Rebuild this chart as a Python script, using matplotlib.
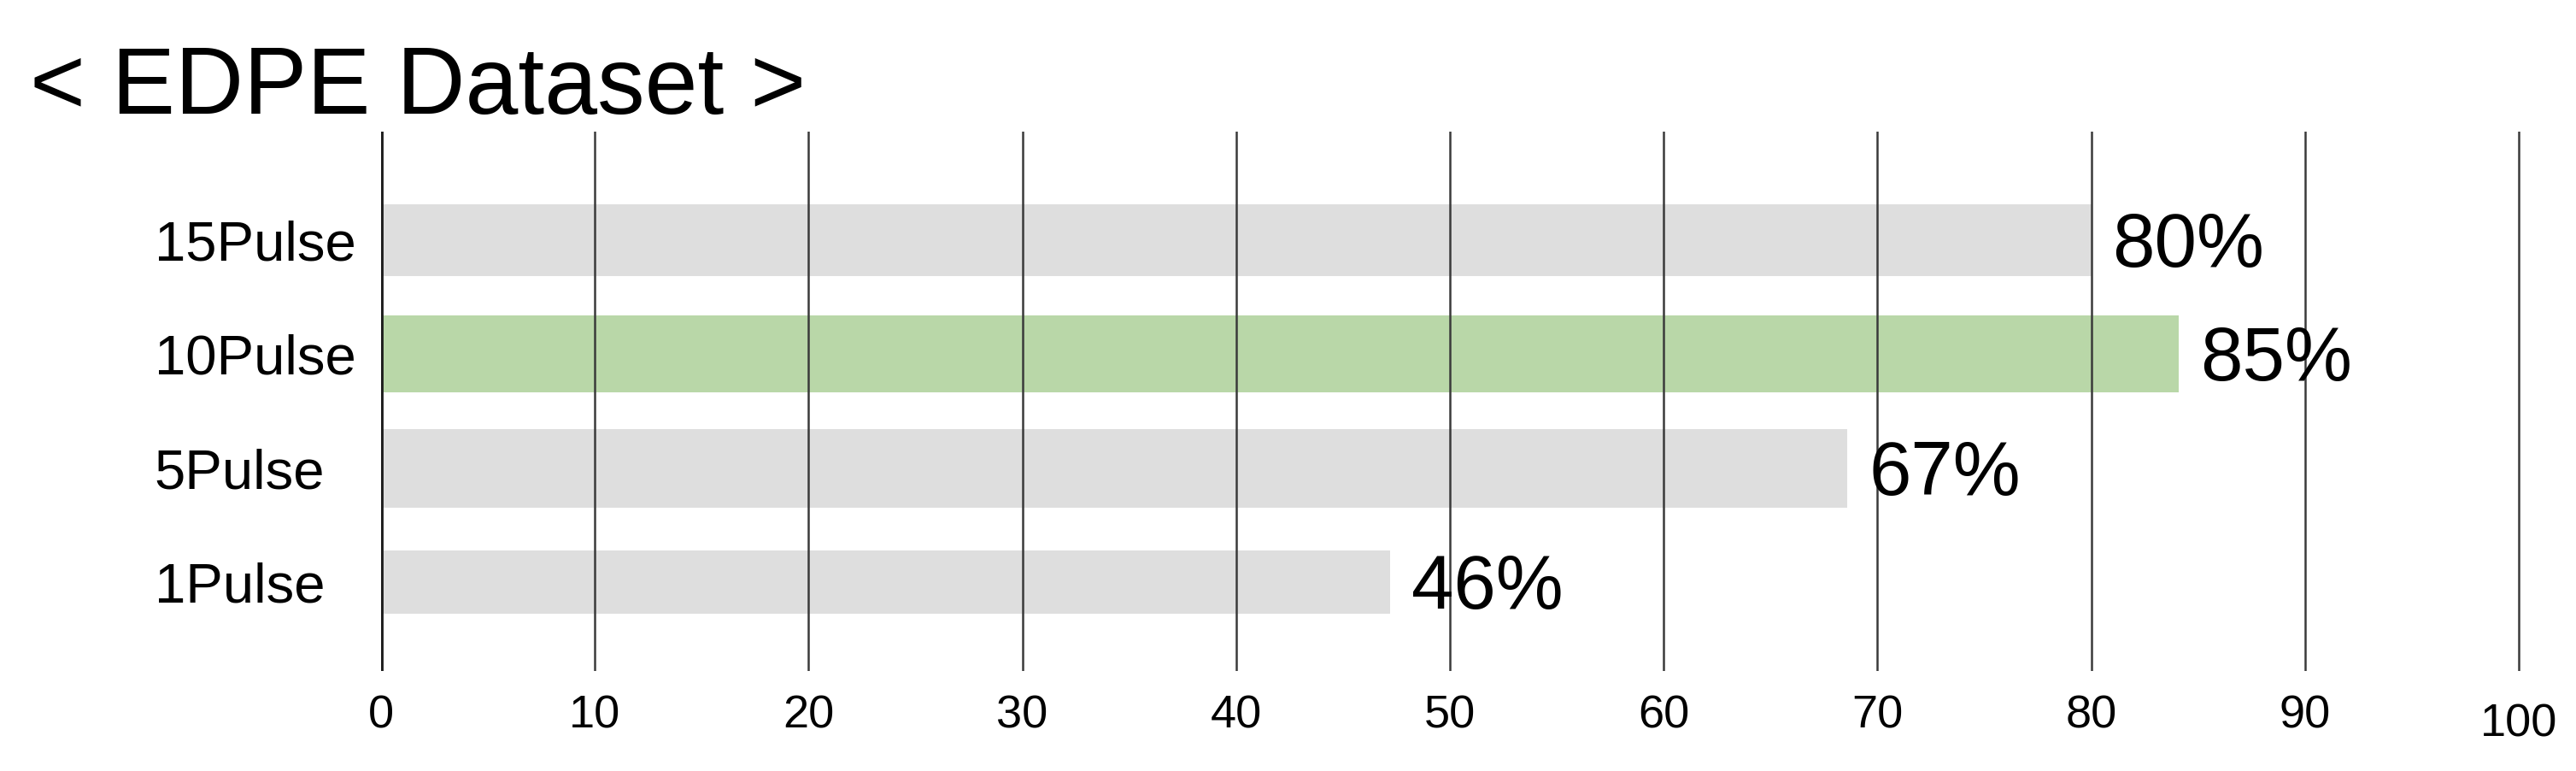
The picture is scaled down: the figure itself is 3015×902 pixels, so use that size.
import matplotlib.pyplot as plt
import matplotlib.transforms as mtransforms

# Data
categories = ['15Pulse', '10Pulse', '5Pulse', '1Pulse']
bar_values = [80.0, 84.1, 68.6, 47.2]
value_labels = ['80%', '85%', '67%', '46%']
x_ticks = [0, 10, 20, 30, 40, 50, 60, 70, 80, 90, 100]
highlight = '10Pulse'

# Layout / style
positions = [3, 2, 1, 0]
bar_heights = [0.63, 0.67, 0.69, 0.56]
font = ['Liberation Sans', 'DejaVu Sans']

fig = plt.figure(figsize=(30.15, 9.02), dpi=100)
ax = fig.add_axes([0.1479, 0.1297, 0.8307, 0.6996])

colors = ['#B9D7A8' if c == highlight else '#DEDEDE' for c in categories]
ax.barh(positions, bar_values, height=bar_heights, color=colors, zorder=1)

# value labels next to the bars
for y, v, lab in zip(positions, bar_values, value_labels):
    ax.text(v + 1.0, y - 0.06, lab, va='center', ha='left', fontsize=64,
            family=font, color='black', zorder=4)

ax.set_xlim(0, 100.1)
ax.set_ylim(-0.78, 3.95)
ax.set_xticks(x_ticks)
ax.set_yticks(positions, categories, ha='left')

ax.grid(axis='x', color='#3a3a3a', linewidth=1.8)
ax.grid(axis='y', visible=False)
ax.set_axisbelow(False)
ax.axvline(0, color='#1e1e1e', linewidth=3.5, zorder=3)

for s in ax.spines.values():
    s.set_visible(False)

ax.tick_params(axis='x', length=0, pad=20, labelsize=39)
ax.tick_params(axis='y', length=0, pad=191, labelsize=47)
for t in ax.get_xticklabels() + ax.get_yticklabels():
    t.set_family(font)

# the "100" label sits a bit lower in the original
last = ax.get_xticklabels()[-1]
last.set_transform(last.get_transform() +
                   mtransforms.ScaledTranslation(0, -0.10, fig.dpi_scale_trans))

fig.text(35 / 3015, 1 - 133 / 902, '< EDPE Dataset >', fontsize=80,
         family=font, va='baseline', ha='left')

fig.savefig('out.png', dpi=100)
